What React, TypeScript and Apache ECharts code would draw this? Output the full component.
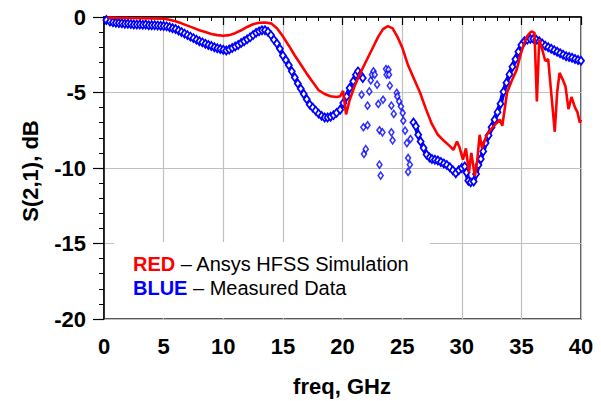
import React, { useEffect, useRef } from "react";
import * as echarts from "echarts";

const xTitle = "freq, GHz";
const yTitle = "S(2,1), dB";
const legendRed = ["RED", " – Ansys HFSS Simulation"];
const legendBlue = ["BLUE", " – Measured Data"];

// Simulation (red line): [freq GHz, dB]
const simData: number[][] = [
  [0.3, -0.03], [1, -0.05], [2, -0.07], [3, -0.08], [4, -0.1], [5, -0.12], [5.5, -0.18],
  [6, -0.28], [6.5, -0.42], [7, -0.57], [7.5, -0.72], [8, -0.88], [8.5, -1.0], [9, -1.12],
  [9.5, -1.2], [10, -1.24], [10.5, -1.2], [11, -1.07], [11.5, -0.88], [12, -0.66], [12.5, -0.48],
  [13, -0.38], [13.5, -0.36], [14, -0.42], [14.5, -0.75], [15, -1.28], [15.5, -1.9], [16, -2.55],
  [16.5, -3.15], [17, -3.75], [17.5, -4.3], [18, -4.85], [18.5, -5.1], [19, -5.25], [19.5, -5.3],
  [19.8, -5.25], [20.05, -4.9], [20.3, -6.45], [20.6, -5.5], [21, -4.6], [21.5, -3.7], [22, -2.9],
  [22.5, -2.1], [23, -1.3], [23.4, -0.8], [23.8, -0.6], [24.2, -0.75], [24.6, -1.3], [25, -2.0],
  [25.5, -3.2], [26, -4.1], [26.5, -5.0], [27, -6.1], [27.5, -7.1], [28, -7.8], [28.5, -8.2],
  [29, -8.55], [29.3, -8.8], [29.6, -8.25], [29.8, -8.6], [30.1, -9.45], [30.35, -8.7],
  [30.6, -10.3], [30.8, -9.0], [31.1, -10.55], [31.3, -9.5], [31.5, -7.8], [31.7, -8.7],
  [32.1, -7.8], [32.6, -7.3], [33.2, -6.8], [33.4, -7.2], [33.8, -5.0], [34.2, -4.2], [34.6, -3.5],
  [35.0, -2.3], [35.3, -1.6], [35.6, -1.15], [35.85, -0.95], [36.1, -1.05], [36.3, -5.6],
  [36.5, -1.5], [36.8, -2.3], [37.0, -2.9], [37.25, -2.8], [37.5, -5.0], [37.8, -7.6], [38.0, -5.0],
  [38.2, -3.7], [38.5, -4.2], [38.7, -4.6], [38.95, -6.1], [39.2, -5.3], [39.5, -6.0], [39.7, -6.3],
  [39.9, -7.0], [40, -6.8],
];

// Measured (blue diamonds), smooth low-frequency stretch: [freq GHz, dB]
const measLow: number[][] = [
  [0.2, -0.2], [0.5, -0.3], [0.75, -0.35], [1, -0.38], [1.25, -0.4], [1.5, -0.42], [1.75, -0.45],
  [2, -0.45], [2.25, -0.47], [2.5, -0.5], [2.75, -0.5], [3, -0.5], [3.25, -0.52], [3.5, -0.5],
  [3.75, -0.55], [4, -0.55], [4.25, -0.55], [4.5, -0.57], [4.75, -0.58], [5, -0.6], [5.25, -0.62],
  [5.5, -0.68], [5.75, -0.75], [6, -0.8], [6.25, -0.9], [6.5, -1.0], [6.75, -1.1], [7, -1.2],
  [7.25, -1.3], [7.5, -1.4], [7.75, -1.5], [8, -1.6], [8.25, -1.68], [8.5, -1.77], [8.75, -1.85],
  [9, -1.92], [9.25, -2.0], [9.5, -2.07], [9.75, -2.12], [10, -2.17], [10.25, -2.22], [10.5, -2.15],
  [10.75, -2.05], [11, -1.95], [11.25, -1.85], [11.5, -1.72], [11.75, -1.6], [12, -1.48],
  [12.25, -1.35], [12.5, -1.2], [12.75, -1.05], [13, -0.95], [13.25, -0.88], [13.5, -0.88],
  [13.75, -0.98], [14, -1.2], [14.25, -1.5], [14.5, -1.75], [14.75, -2.1], [15, -2.55],
  [15.25, -2.85], [15.5, -3.2], [15.75, -3.6], [16, -4.0], [16.25, -4.4], [16.5, -4.75],
  [16.75, -5.1], [17, -5.45], [17.25, -5.8], [17.5, -6.0], [17.75, -6.2], [18, -6.4], [18.25, -6.55],
  [18.5, -6.65], [18.75, -6.65], [19, -6.6], [19.25, -6.5], [19.5, -6.35], [19.8, -6.14],
  [20.07, -5.7], [20.35, -5.26], [20.6, -4.7], [20.9, -4.26], [21.13, -3.82], [21.3, -3.6],
  [21.5, -3.82], [21.7, -4.04],
];

// Measured, scattered resonance region
const measScatter: number[][] = [
  [21.6, -5.15], [21.75, -7.3], [21.8, -9.07], [21.95, -8.75], [22.1, -5.87], [22.1, -7.17],
  [22.25, -4.93], [22.37, -4.2], [22.47, -3.82], [22.6, -3.6], [22.7, -3.82], [22.9, -4.48],
  [23.0, -5.76], [23.1, -7.5], [23.1, -9.78], [23.2, -10.5], [23.35, -7.64], [23.4, -5.48],
  [23.65, -3.45], [23.7, -3.82], [23.85, -3.49], [23.9, -3.82], [23.97, -4.55], [24.1, -5.87],
  [24.1, -7.64], [24.2, -8.17], [24.3, -6.42], [24.55, -5.03], [24.6, -5.26], [24.75, -5.59],
  [24.9, -5.92], [25.05, -6.36], [25.1, -6.87], [25.25, -7.53], [25.4, -8.35], [25.5, -9.34],
  [25.5, -10.26], [25.65, -9.78], [25.7, -8.08],
];

// Measured, smooth high-frequency stretch
const measHigh: number[][] = [
  [25.95, -6.98], [26.15, -7.24],
  [26.35, -7.8], [26.55, -8.24], [26.8, -8.68], [27.05, -9.1], [27.3, -9.3], [27.5, -9.4],
  [27.75, -9.45], [28, -9.5], [28.25, -9.6], [28.5, -9.7], [28.75, -9.8], [29, -9.95],
  [29.25, -10.15], [29.5, -10.35], [29.75, -10.15], [30, -10.0], [30.25, -9.9], [30.4, -10.3],
  [30.55, -10.85], [30.75, -10.95], [31, -10.9], [31.2, -10.4], [31.4, -9.8], [31.6, -9.4],
  [31.8, -8.9], [32, -8.35], [32.25, -7.85], [32.5, -7.3], [32.75, -6.8], [33, -6.3],
  [33.25, -5.75], [33.5, -4.95], [33.75, -4.35], [34, -3.8], [34.25, -3.3], [34.5, -2.8],
  [34.75, -2.3], [35, -1.85], [35.25, -1.6], [35.5, -1.5], [35.75, -1.45], [36, -1.45],
  [36.25, -1.5], [36.5, -1.6], [36.75, -1.75], [37, -1.9], [37.25, -2.0], [37.5, -2.1],
  [37.75, -2.2], [38, -2.3], [38.25, -2.4], [38.5, -2.5], [38.75, -2.6], [39, -2.65],
  [39.25, -2.7], [39.5, -2.78], [39.75, -2.85], [40, -2.9],
];

const FONT = "'Liberation Sans', Arial, sans-serif";
const BLUE = "#0000ff";

const chainSeries = (data: number[][]) => ({
  type: "line", data, z: 2,
  showSymbol: true, symbol: "diamond", symbolSize: [6, 8],
  itemStyle: { color: "#ffffff", borderColor: BLUE, borderWidth: 1.8 },
  lineStyle: { color: BLUE, width: 4.5 },
});

export default function App() {
  const ref = useRef<HTMLDivElement>(null);
  useEffect(() => {
    if (!ref.current) return;
    const chart = echarts.init(ref.current, undefined, { renderer: "svg" });
    chart.setOption({
      animation: false,
      backgroundColor: "#ffffff",
      grid: {
        left: 104, top: 17, right: 20, bottom: 82,
        show: true, borderColor: "#222", borderWidth: 1.5, backgroundColor: "transparent",
      },
      xAxis: {
        type: "value", min: 0, max: 40, interval: 5,
        axisLine: { lineStyle: { color: "#000", width: 1.5 } },
        axisTick: { show: true, length: 8, lineStyle: { color: "#000", width: 1.2 } },
        minorTick: { show: true, splitNumber: 5, length: 4, lineStyle: { color: "#000", width: 1 } },
        splitLine: { show: true, lineStyle: { color: "#c0c0c0", width: 1.2 } },
        axisLabel: { margin: 16, fontFamily: FONT, fontSize: 22, fontWeight: "bold", color: "#000" },
      },
      yAxis: {
        type: "value", min: -20, max: 0, interval: 5,
        axisLine: { onZero: false, lineStyle: { color: "#000", width: 1.5 } },
        axisTick: { show: true, length: 11, lineStyle: { color: "#000", width: 1.2 } },
        minorTick: { show: true, splitNumber: 5, length: 5, lineStyle: { color: "#000", width: 1 } },
        splitLine: { show: true, lineStyle: { color: "#c0c0c0", width: 1.2 } },
        axisLabel: { margin: 18, fontFamily: FONT, fontSize: 22, fontWeight: "bold", color: "#000" },
      },
      graphic: [
        {
          type: "rect", z: 50,
          shape: { x: 114, y: 242, width: 316, height: 76 },
          style: { fill: "#ffffff" },
        },
        {
          type: "text", z: 51, x: 133, y: 264,
          style: {
            text: `{r|${legendRed[0]}}{n|${legendRed[1]}}`,
            verticalAlign: "middle",
            rich: {
              r: { fontFamily: FONT, fontSize: 20, fontWeight: "bold", fill: "#ff0000" },
              n: { fontFamily: FONT, fontSize: 20, fill: "#000" },
            },
          },
        },
        {
          type: "text", z: 51, x: 133, y: 288,
          style: {
            text: `{b|${legendBlue[0]}}{n|${legendBlue[1]}}`,
            verticalAlign: "middle",
            rich: {
              b: { fontFamily: FONT, fontSize: 20, fontWeight: "bold", fill: BLUE },
              n: { fontFamily: FONT, fontSize: 20, fill: "#000" },
            },
          },
        },
        {
          type: "text", x: 342, y: 386,
          style: {
            text: xTitle, fontFamily: FONT, fontSize: 22, fontWeight: "bold", fill: "#000",
            align: "center", verticalAlign: "middle",
          },
        },
        {
          type: "text", x: 30, y: 171, rotation: Math.PI / 2,
          style: {
            text: yTitle, fontFamily: FONT, fontSize: 22, fontWeight: "bold", fill: "#000",
            align: "center", verticalAlign: "middle",
          },
        },
      ],
      series: [
        { ...chainSeries(measLow), name: "Measured" },
        {
          type: "scatter", name: "Measured scatter", data: measScatter, z: 2,
          symbol: "diamond", symbolSize: [5, 7],
          itemStyle: { color: "#ffffff", borderColor: BLUE, borderWidth: 1.6 },
        },
        { ...chainSeries(measHigh), name: "Measured high" },
        {
          type: "line", name: "Simulation", data: simData, z: 3,
          showSymbol: false, symbol: "none",
          lineStyle: { color: "#ff0000", width: 2.6 },
        },
      ],
    });
    return () => chart.dispose();
  }, []);
  return (
    <div
      ref={ref}
      style={{ position: "fixed", left: 0, top: 0, width: 601, height: 401 }}
    />
  );
}
